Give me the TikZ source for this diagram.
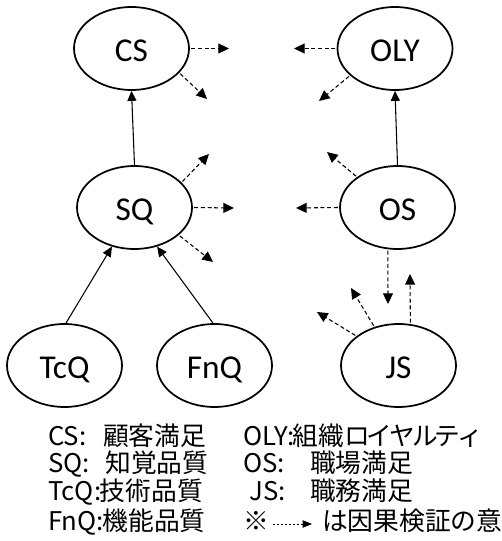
\documentclass[tikz,border=0pt]{standalone}
\usepackage{fontspec}
\newfontfamily\nodefont{Carlito}
\newfontfamily\jpfont{Noto Sans CJK JP}
\usetikzlibrary{arrows.meta,shapes.geometric}
\tikzset{
  var/.style={ellipse, draw, line width=1.3pt, minimum width=86.25pt, minimum height=62.25pt,
    inner sep=0pt, font=\nodefont\fontsize{25}{28}\selectfont, text height=20pt, text depth=0pt},
  causal/.style={dash pattern=on 3pt off 2pt, line width=0.8pt, shorten <=1pt,
    -{Triangle[length=8pt,width=7.5pt]}},
  effect/.style={line width=0.8pt, -{Triangle[length=7.5pt,width=6.75pt]}},
  legend/.style={anchor=base west, inner sep=0pt, font=\jpfont\fontsize{19.3}{22}\selectfont},
  legendarrow/.style={dash pattern=on 1.5pt off 1.5pt, line width=0.6pt,
    -{Triangle[length=7pt,width=5.5pt]}},
}
\begin{document}
\begin{tikzpicture}[x=0.75pt,y=-0.75pt]
\fill[white] (0,0) rectangle (501,541);
\useasboundingbox (0,0) rectangle (501,541);

% variables
\node[var] (CS)  at (131.5,48.5)  {CS};
\node[var] (OLY) at (395,48.5)    {OLY};
\node[var] (SQ)  at (134.5,207.5) {SQ};
\node[var] (OS)  at (397.5,207.5) {OS};
\node[var] (TcQ) at (64.5,365.5)  {TcQ};
\node[var] (FnQ) at (214.5,365.5) {FnQ};
\node[var] (JS)  at (398.5,365.5) {JS};

% solid causal paths
\draw[effect] (SQ.north) -- (CS.south);
\draw[effect] (OS.north) -- (OLY.south);
\draw[effect] (TcQ.88) -- (SQ.-120);
\draw[effect] (FnQ.92) -- (SQ.-60);

% free ends of the dashed arrows
\coordinate (c1) at (229,48.5);
\coordinate (c2) at (207,99);
\coordinate (o1) at (294,48.5);
\coordinate (o2) at (319,101);
\coordinate (s1) at (209,154);
\coordinate (s2) at (234,208);
\coordinate (s3) at (213,262);
\coordinate (p1) at (327,152);
\coordinate (p2) at (296,208);
\coordinate (p3) at (388,304);
\coordinate (j1) at (410,274);
\coordinate (j2) at (351,288);
\coordinate (j3) at (317,312);

\draw[causal] (CS.east) -- (c1);
\draw[causal] (CS.-27) -- (c2);
\draw[causal] (OLY.west) -- (o1);
\draw[causal] (OLY.-149) -- (o2);
\draw[causal] (SQ.28) -- (s1);
\draw[causal] (SQ.east) -- (s2);
\draw[causal] (SQ.-32) -- (s3);
\draw[causal] (OS.143) -- (p1);
\draw[causal] (OS.west) -- (p2);
\draw[causal] (OS.-103) -- (p3);
\draw[causal] (JS.74) -- (j1);
\draw[causal] (JS.122) -- (j2);
\draw[causal] (JS.145) -- (j3);

% legend
\node[legend] (L1) at (48,445) {\makebox[41.25pt][l]{CS:}顧客満足};
\node[legend] (L2) at (48,472) {\makebox[42.75pt][l]{SQ:}知覚品質};
\node[legend] (L3) at (48,500) {TcQ:\kern-1pt 技術品質};
\node[legend] (L4) at (48,530) {FnQ:\kern-1pt 機能品質};
\node[legend] (R1) at (243,445) {OLY:\kern-1pt 組織ロ\kern-2.4ptイ\kern-2.4ptヤ\kern-2.4ptル\kern-2.4ptテ\kern-2.4ptィ};
\node[legend] (R2) at (243,472) {\makebox[50.25pt][l]{OS:}職場満足};
\node[legend] (R3) at (243,500) {\makebox[50.25pt][l]{\hspace{4.5pt}JS:}職務満足};
\node[legend] (R4) at (243,530) {\makebox[59.25pt][l]{※}は因果検証の意};
\coordinate (la) at (273,524);
\coordinate (lb) at (312,524);
\draw[legendarrow] (la) -- (lb);
\end{tikzpicture}
\end{document}
